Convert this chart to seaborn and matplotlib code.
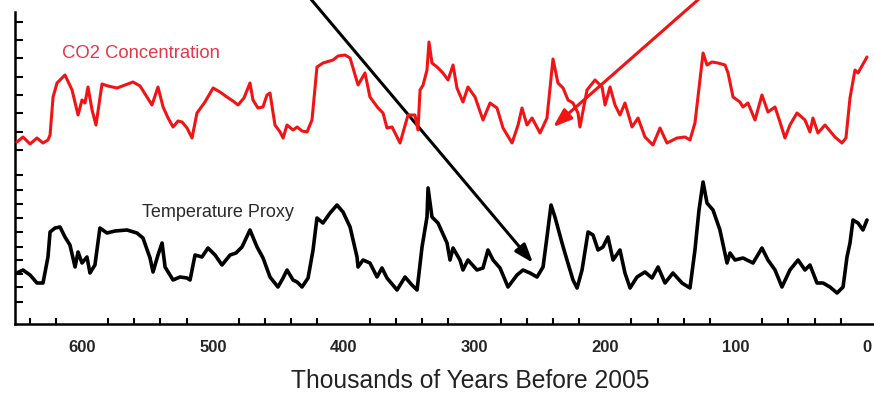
import matplotlib
matplotlib.use("Agg")
import matplotlib.pyplot as plt
from matplotlib.ticker import MultipleLocator
import seaborn as sns
import pandas as pd

# CO2 record (thousands of years before 2005, ppm)
co2_kyr = [649.7, 645.1, 639.7, 634.4, 629.8, 626.0, 624.4, 622.1, 619.1, 613.0,
           607.6, 603.0, 600.0, 597.7, 595.4, 592.3, 589.3, 584.7, 580.1, 573.2,
           567.1, 561.0, 555.6, 550.3, 546.5, 541.9, 538.0, 534.2, 530.4, 526.6,
           523.5, 519.7, 515.9, 512.1, 506.0, 499.8, 494.5, 489.2, 484.6, 480.7,
           476.2, 471.6, 469.3, 465.5, 461.7, 458.6, 456.3, 452.5, 448.6, 446.3,
           443.3, 438.7, 435.6, 431.8, 428.0, 424.2, 420.4, 415.8, 408.1, 404.3,
           399.0, 395.1, 389.0, 383.7, 379.9, 373.7, 369.9, 366.9, 363.0, 356.9,
           350.8, 345.5, 343.2, 341.6, 339.3, 336.3, 334.8, 332.5, 328.6, 324.1,
           320.2, 316.4, 313.4, 308.8, 305.0, 299.6, 293.5, 288.1, 282.8, 278.2,
           271.3, 266.7, 263.7, 259.9, 256.0, 249.9, 244.6, 240.0, 236.2, 232.3,
           228.5, 224.7, 220.9, 219.4, 214.0, 207.9, 202.5, 200.2, 196.4, 192.6,
           188.8, 185.0, 179.6, 175.0, 169.7, 163.6, 158.2, 152.9, 145.2, 139.1,
           135.3, 131.5, 127.7, 125.3, 122.3, 118.5, 113.9, 108.5, 106.2, 102.4,
           97.1, 94.8, 91.0, 85.6, 80.3, 75.7, 70.3, 66.5, 62.7, 58.9,
           53.5, 47.4, 43.6, 41.3, 37.5, 32.1, 24.5, 19.1, 16.1, 13.0,
           9.2, 6.9, 0.0]
co2_ppm = [199, 204, 197, 203, 198, 201, 206, 244, 258, 266,
           251, 226, 241, 238, 254, 231, 216, 257, 255, 253,
           256, 259, 255, 244, 236, 254, 234, 223, 214, 220,
           219, 213, 203, 228, 239, 253, 249, 244, 240, 236,
           243, 258, 241, 233, 234, 246, 248, 216, 209, 203,
           216, 211, 214, 210, 209, 221, 274, 278, 281, 285,
           286, 283, 256, 268, 244, 233, 228, 213, 214, 198,
           226, 226, 211, 251, 256, 271, 299, 278, 274, 268,
           261, 276, 253, 239, 254, 244, 221, 238, 233, 213,
           198, 216, 233, 216, 223, 208, 223, 282, 258, 253,
           241, 238, 228, 214, 251, 261, 254, 236, 254, 236,
           226, 238, 214, 223, 204, 196, 213, 198, 203, 204,
           201, 218, 261, 288, 276, 279, 278, 276, 268, 244,
           239, 234, 238, 221, 246, 229, 234, 219, 203, 216,
           228, 221, 209, 223, 208, 216, 204, 198, 203, 243,
           271, 268, 284]

# Temperature proxy (anomaly, deg C)
temp_kyr = [649.7, 645.1, 639.7, 634.4, 629.8, 626.0, 624.4, 620.6, 616.8, 613.0,
            609.2, 605.3, 603.0, 600.0, 596.2, 593.9, 590.1, 586.3, 580.9, 574.8,
            565.6, 558.0, 553.4, 548.0, 545.7, 541.9, 538.8, 536.5, 530.4, 525.1,
            519.7, 517.4, 513.6, 508.3, 503.7, 498.3, 493.0, 486.8, 482.3, 477.7,
            471.6, 466.2, 461.6, 456.3, 450.2, 446.3, 443.3, 438.7, 435.6, 431.8,
            427.2, 423.4, 420.4, 415.8, 410.4, 405.1, 400.5, 395.1, 389.8, 389.0,
            385.2, 379.9, 374.5, 370.7, 366.9, 359.2, 353.1, 347.8, 343.9, 340.1,
            336.3, 335.5, 332.5, 327.9, 321.0, 318.7, 316.4, 311.1, 308.8, 305.0,
            298.1, 293.5, 289.7, 285.8, 280.5, 274.4, 267.5, 262.9, 257.6, 252.2,
            247.6, 244.6, 241.5, 238.5, 233.1, 229.3, 224.7, 221.6, 217.8, 213.2,
            209.4, 205.6, 201.8, 198.0, 194.1, 188.8, 185.0, 181.1, 175.8, 169.7,
            164.3, 159.7, 154.4, 148.3, 141.4, 135.3, 131.5, 128.4, 125.3, 122.3,
            117.7, 112.4, 107.0, 104.7, 100.9, 94.8, 87.1, 80.3, 75.7, 70.3,
            65.0, 58.9, 52.7, 47.4, 43.6, 38.2, 33.6, 28.3, 22.9, 18.3,
            15.3, 13.0, 10.7, 6.9, 3.1, 0.0]
temp_c = [-6.1, -5.8, -6.3, -7.1, -7.1, -4.5, -2.0, -1.6, -1.5, -2.5,
          -3.3, -5.5, -4.0, -5.1, -4.5, -6.1, -5.3, -1.6, -2.1, -1.9,
          -1.8, -2.1, -2.6, -4.6, -6.0, -4.3, -3.1, -5.5, -6.8, -6.5,
          -6.6, -6.8, -4.3, -4.5, -3.6, -4.3, -5.3, -4.3, -4.1, -3.5,
          -1.8, -3.5, -4.6, -6.5, -7.5, -6.6, -5.8, -6.8, -7.0, -7.5,
          -6.6, -3.8, -0.6, -1.1, -0.1, 0.7, 0.0, -1.5, -4.5, -5.5,
          -4.8, -5.1, -6.5, -5.6, -6.6, -7.8, -6.5, -7.3, -7.8, -3.5,
          -0.5, 2.4, -0.5, -1.1, -3.1, -4.8, -3.6, -4.8, -5.8, -4.8,
          -5.8, -5.6, -3.8, -4.8, -5.6, -7.5, -6.3, -5.8, -6.1, -6.5,
          -5.5, -2.5, 0.7, -0.5, -3.1, -4.8, -6.8, -7.6, -5.8, -2.0,
          -2.3, -3.8, -3.5, -2.5, -4.8, -3.8, -6.1, -7.6, -6.5, -6.0,
          -6.6, -5.5, -7.1, -6.1, -7.1, -7.6, -3.8, 0.2, 3.0, 0.9,
          0.2, -1.8, -5.1, -4.1, -4.8, -4.6, -5.1, -3.6, -4.8, -5.8,
          -7.5, -5.8, -4.8, -5.8, -5.3, -7.1, -7.1, -7.5, -8.1, -7.5,
          -4.5, -3.1, -0.8, -1.1, -1.8, -0.8]

co2_ticks = [191, 209, 228, 246, 264, 283, 301, 319]
temp_ticks = [-9.0, -7.5, -6.2, -4.8, -3.5, -2.0, -0.6, 0.8, 2.2, 3.7]
x_ticks = [600, 500, 400, 300, 200, 100, 0]

co2 = pd.DataFrame({"kyr": co2_kyr, "ppm": co2_ppm})
temp = pd.DataFrame({"kyr": temp_kyr, "temp": temp_c})

sns.set_theme(style="white")
plt.rcParams["font.family"] = ["Liberation Sans", "DejaVu Sans"]

fig = plt.figure(figsize=(8.74, 3.93), dpi=100)
ax = fig.add_axes([0.01716, 0.17557, 0.98284, 0.79389])
ax2 = ax.twinx()

sns.lineplot(data=temp, x="kyr", y="temp", ax=ax, color="black",
             linewidth=2.6, estimator=None)
sns.lineplot(data=co2, x="kyr", y="ppm", ax=ax2, color="#f01414",
             linewidth=2.2, estimator=None)

ax.set_xlim(651.2, -5.35)
ax.set_ylim(-11.2, 20.0)
ax2.set_ylim(17, 329)

for a in (ax, ax2):
    a.set_xlabel("")
    a.set_ylabel("")
    for s in ("top", "right"):
        a.spines[s].set_visible(False)
ax2.spines["left"].set_visible(False)
ax2.spines["bottom"].set_visible(False)
ax.spines["left"].set_linewidth(1.8)
ax.spines["bottom"].set_linewidth(1.8)
ax.spines["left"].set_color("black")
ax.spines["bottom"].set_color("black")

# x axis
ax.set_xticks(x_ticks)
ax.xaxis.set_minor_locator(MultipleLocator(20))
ax.tick_params(axis="x", which="major", direction="in", length=9.5, width=1.5,
               color="black", pad=11.5, labelsize=12)
ax.tick_params(axis="x", which="minor", direction="in", length=4.5, width=1.5,
               color="black", bottom=True)
for lbl in ax.get_xticklabels():
    lbl.set_fontweight("bold")
ax.set_xlabel("Thousands of Years Before 2005", fontsize=17.7, color="#222222")
ax.xaxis.set_label_coords(0.53, -0.145)

# left ticks: temperature group and CO2 group, no labels
ax.set_yticks(temp_ticks)
ax.tick_params(axis="y", direction="in", length=5.8, width=1.5, color="black",
               labelleft=False, left=True)
ax2.yaxis.tick_left()
ax2.set_yticks(co2_ticks)
ax2.tick_params(axis="y", direction="in", length=5.8, width=1.5, color="black",
                labelleft=False, labelright=False, left=True, right=False)

ax2.text(615.3, 288, "CO2 Concentration", color="#e23848", fontsize=13.3,
         ha="left", va="center")
ax.text(554.1, 0.0, "Temperature Proxy", color="#2a2a2a", fontsize=13,
        ha="left", va="center")

# the two arrows drawn over the chart
ax.annotate("", xy=(255.3, 0.196), xytext=(428.8, 1.06),
            xycoords=("data", "axes fraction"), textcoords=("data", "axes fraction"),
            annotation_clip=False,
            arrowprops=dict(arrowstyle="-|>,head_length=0.7,head_width=0.25",
                            color="black", lw=2.2, mutation_scale=16,
                            shrinkA=0, shrinkB=0))
ax.annotate("", xy=(240.0, 0.631), xytext=(123.5, 1.06),
            xycoords=("data", "axes fraction"), textcoords=("data", "axes fraction"),
            annotation_clip=False,
            arrowprops=dict(arrowstyle="-|>,head_length=0.7,head_width=0.25",
                            color="#f01414", lw=2.2, mutation_scale=16,
                            shrinkA=0, shrinkB=0))

fig.savefig("out.png", dpi=100)
